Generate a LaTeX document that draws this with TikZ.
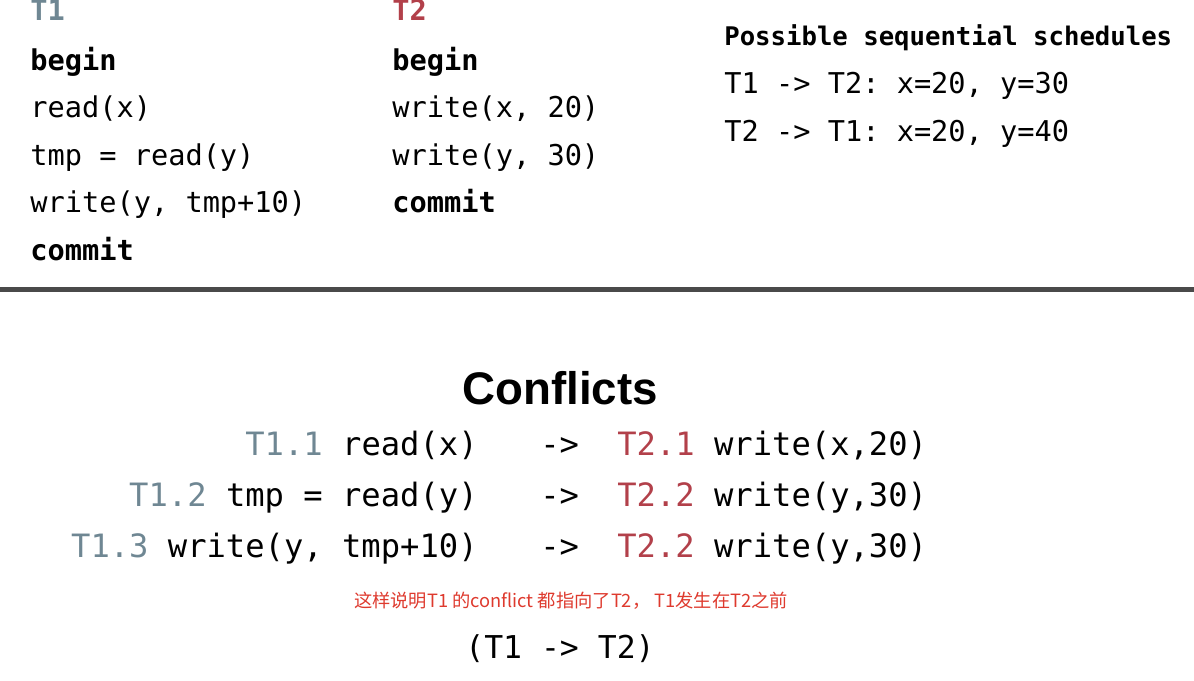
\documentclass[tikz,border=0pt]{standalone}
\usepackage{fontspec}
\setmonofont{DejaVu Sans Mono}
\newfontfamily\headfont{Liberation Sans}
\newfontfamily\cjkfont{Noto Sans CJK SC}
\usetikzlibrary{positioning}
\usetikzlibrary{calc}
\definecolor{tOneGray}{HTML}{6F8793}
\definecolor{tTwoRed}{HTML}{B2404A}
\definecolor{noteRed}{HTML}{DE3A2E}
\definecolor{ruleGray}{HTML}{4A4A4A}
\tikzstyle{code} = [inner sep=0pt, anchor=base west, font=\ttfamily\fontsize{16.3}{19}\selectfont]
\tikzstyle{sched} = [inner sep=0pt, anchor=base west, font=\ttfamily\fontsize{16.3}{19}\selectfont]
\tikzstyle{row} = [inner sep=0pt, font=\ttfamily\fontsize{18.3}{22}\selectfont]
\tikzstyle{rule} = [draw=ruleGray, line width=0.1cm]
\newcommand{\lineGap}{47.6}
\newcommand{\rowGap}{51}

\begin{document}
\begin{tikzpicture}[x=0.02cm, y=-0.02cm]

  \useasboundingbox (0,0) rectangle (1194,680);

  \coordinate (left) at (30,20);
  \coordinate (middle) at (392,20);
  \coordinate (right) at (724,45);
  \coordinate (ruleLeft) at (0,289);
  \coordinate (ruleRight) at (1194,289);
  \coordinate (rowEnd) at (478,455);
  \coordinate (arrowStart) at (540,455);
  \coordinate (rowStart) at (617,455);

  % Transaction T1
  \node [code, font=\ttfamily\bfseries\fontsize{16.3}{19}\selectfont, text=tOneGray] (t1Title) at (left) {T1};
  \node [code, font=\ttfamily\bfseries\fontsize{16.3}{19}\selectfont] (t1Begin) at ([yshift=-50*0.02cm]left) {begin};
  \node [code] (t1Read) at ([yshift=-(50+\lineGap)*0.02cm]left) {read(x)};
  \node [code] (t1Tmp) at ([yshift=-(50+2*\lineGap)*0.02cm]left) {tmp = read(y)};
  \node [code] (t1Write) at ([yshift=-(50+3*\lineGap)*0.02cm]left) {write(y, tmp+10)};
  \node [code, font=\ttfamily\bfseries\fontsize{16.3}{19}\selectfont] (t1Commit) at ([yshift=-(50+4*\lineGap)*0.02cm]left) {commit};

  % Transaction T2
  \node [code, font=\ttfamily\bfseries\fontsize{16.3}{19}\selectfont, text=tTwoRed] (t2Title) at (middle) {T2};
  \node [code, font=\ttfamily\bfseries\fontsize{16.3}{19}\selectfont] (t2Begin) at ([yshift=-50*0.02cm]middle) {begin};
  \node [code] (t2WriteX) at ([yshift=-(50+\lineGap)*0.02cm]middle) {write(x, 20)};
  \node [code] (t2WriteY) at ([yshift=-(50+2*\lineGap)*0.02cm]middle) {write(y, 30)};
  \node [code, font=\ttfamily\bfseries\fontsize{16.3}{19}\selectfont] (t2Commit) at ([yshift=-(50+3*\lineGap)*0.02cm]middle) {commit};

  % Sequential schedules
  \node [sched, font=\ttfamily\bfseries\fontsize{14.6}{18}\selectfont] (schedTitle) at (right) {Possible sequential schedules};
  \node [sched] (schedOne) at ([yshift=-48*0.02cm]right) {T1 -> T2: x=20, y=30};
  \node [sched] (schedTwo) at ([yshift=-96*0.02cm]right) {T2 -> T1: x=20, y=40};

  % Separator
  \draw [rule] (ruleLeft) -- (ruleRight);

  % Conflicts title
  \node [inner sep=0pt, anchor=base, font=\headfont\bfseries\fontsize{26}{30}\selectfont] (conflictsTitle) at (560,404) {Conflicts};

  % Conflict rows
  \node [row, anchor=base east] (rowOneLeft) at (rowEnd) {\textcolor{tOneGray}{T1.1} read(x)};
  \node [row, anchor=base west] (rowOneArrow) at (arrowStart) {->};
  \node [row, anchor=base west] (rowOneRight) at (rowStart) {\textcolor{tTwoRed}{T2.1} write(x,20)};

  \node [row, anchor=base east] (rowTwoLeft) at ([yshift=-\rowGap*0.02cm]rowEnd) {\textcolor{tOneGray}{T1.2} tmp = read(y)};
  \node [row, anchor=base west] (rowTwoArrow) at ([yshift=-\rowGap*0.02cm]arrowStart) {->};
  \node [row, anchor=base west] (rowTwoRight) at ([yshift=-\rowGap*0.02cm]rowStart) {\textcolor{tTwoRed}{T2.2} write(y,30)};

  \node [row, anchor=base east] (rowThreeLeft) at ([yshift=-2*\rowGap*0.02cm]rowEnd) {\textcolor{tOneGray}{T1.3} write(y, tmp+10)};
  \node [row, anchor=base west] (rowThreeArrow) at ([yshift=-2*\rowGap*0.02cm]arrowStart) {->};
  \node [row, anchor=base west] (rowThreeRight) at ([yshift=-2*\rowGap*0.02cm]rowStart) {\textcolor{tTwoRed}{T2.2} write(y,30)};

  % Note
  \node [inner sep=0pt, text=noteRed, font=\cjkfont\fontsize{10.4}{12}\selectfont] (note) at (571,601) {这样说明T1 的conflict 都指向了T2， T1发生在T2之前};

  % Result
  \node [row, anchor=base, font=\ttfamily\fontsize{17.9}{22}\selectfont] (result) at (560,658) {(T1 -> T2)};

\end{tikzpicture}
\end{document}
